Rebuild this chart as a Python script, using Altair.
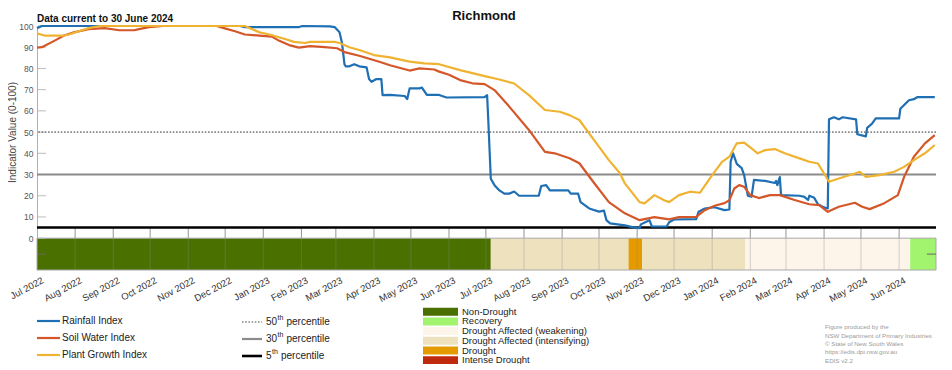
import altair as alt
import pandas as pd

FONT = "Liberation Sans"

# ---------------- data ----------------
rain_dates = ["2022-07-01", "2022-07-05", "2022-12-13", "2022-12-17", "2023-01-30", "2023-02-02", "2023-02-24",
              "2023-02-28", "2023-03-04", "2023-03-06", "2023-03-08", "2023-03-09", "2023-03-12", "2023-03-16",
              "2023-03-20", "2023-03-26", "2023-03-28", "2023-03-30", "2023-04-03", "2023-04-07", "2023-04-08",
              "2023-04-14", "2023-04-26", "2023-04-28", "2023-04-30", "2023-05-08", "2023-05-10", "2023-05-14",
              "2023-05-24", "2023-05-30", "2023-06-30", "2023-07-02", "2023-07-03", "2023-07-05", "2023-07-08",
              "2023-07-12", "2023-07-16", "2023-07-20", "2023-07-24", "2023-07-28", "2023-08-13", "2023-08-15",
              "2023-08-19", "2023-08-22", "2023-09-06", "2023-09-08", "2023-09-14", "2023-09-16", "2023-09-23",
              "2023-10-01", "2023-10-05", "2023-10-07", "2023-10-10", "2023-10-22", "2023-10-28", "2023-11-03",
              "2023-11-04", "2023-11-11", "2023-11-13", "2023-11-25", "2023-11-27", "2023-12-01", "2023-12-19",
              "2023-12-21", "2023-12-26", "2024-01-03", "2024-01-11", "2024-01-15", "2024-01-16", "2024-01-18",
              "2024-01-21", "2024-01-25", "2024-01-27", "2024-01-30", "2024-02-02", "2024-02-04", "2024-02-13",
              "2024-02-21", "2024-02-22", "2024-02-23", "2024-02-25", "2024-02-26", "2024-03-12", "2024-03-16",
              "2024-03-19", "2024-03-20", "2024-03-24", "2024-03-27", "2024-04-01", "2024-04-04", "2024-04-05",
              "2024-04-09", "2024-04-13", "2024-04-16", "2024-04-27", "2024-04-28", "2024-05-05", "2024-05-06",
              "2024-05-10", "2024-05-13", "2024-06-01", "2024-06-02", "2024-06-09", "2024-06-13", "2024-06-16",
              "2024-06-30"]
rain_vals = [99, 100, 100, 99.5, 99.5, 100, 99.8,
             99.5, 97, 92, 82, 81, 81, 82,
             81, 80.5, 75, 73.7, 75, 75, 67.4,
             67.5, 67, 65.5, 70.6, 70.6, 71, 67.5,
             67.5, 66.3, 66.5, 67.4, 55, 28, 25,
             22.5, 21, 21, 22, 20, 20, 24.6,
             25, 22.5, 22.5, 21, 21, 17, 14,
             12.5, 13, 8.5, 7, 6, 5.2, 4.7,
             6.5, 8.5, 5.5, 5.5, 7.5, 8.8, 9,
             12.5, 14, 14.6, 13.2, 13.5, 36, 40,
             35, 33, 29.7, 20, 19.5, 27.5, 27,
             26, 27, 25, 28.8, 20.3, 20, 19.5,
             18, 20, 19, 16, 14.5, 14, 56,
             57, 56, 57, 56, 49, 48, 52,
             54, 56.5, 56.5, 61, 65, 65.5, 66.5,
             66.5]

soil_dates = ["2022-07-01", "2022-07-05", "2022-07-15", "2022-07-23", "2022-07-31", "2022-08-12", "2022-08-25",
              "2022-09-06", "2022-09-18", "2022-09-22", "2022-09-30", "2022-10-12", "2022-11-24", "2022-11-30",
              "2022-12-09", "2022-12-17", "2022-12-29", "2023-01-08", "2023-01-14", "2023-01-22", "2023-01-30",
              "2023-02-08", "2023-02-20", "2023-03-02", "2023-03-08", "2023-03-20", "2023-04-06", "2023-04-14",
              "2023-04-30", "2023-05-08", "2023-05-20", "2023-05-24", "2023-06-01", "2023-06-10", "2023-06-20",
              "2023-06-30", "2023-07-08", "2023-07-20", "2023-08-05", "2023-08-18", "2023-08-26", "2023-09-07",
              "2023-09-15", "2023-09-27", "2023-10-09", "2023-10-22", "2023-11-03", "2023-11-15", "2023-11-27",
              "2023-12-05", "2023-12-19", "2023-12-26", "2024-01-03", "2024-01-11", "2024-01-15", "2024-01-19",
              "2024-01-23", "2024-01-27", "2024-02-01", "2024-02-08", "2024-02-17", "2024-02-25", "2024-03-08",
              "2024-03-20", "2024-03-28", "2024-04-04", "2024-04-13", "2024-04-26", "2024-05-02", "2024-05-08",
              "2024-05-20", "2024-05-31", "2024-06-05", "2024-06-13", "2024-06-22", "2024-06-30"]
soil_vals = [89.8, 90, 93, 95.5, 97, 98.5, 99,
             98, 98, 98.5, 99.5, 100, 100, 99,
             97.5, 96, 95.5, 95, 93, 91, 89.8,
             90.5, 90, 89.5, 87.7, 86, 83, 81.5,
             79, 80, 79.5, 78.5, 77, 74.5, 73,
             72.6, 69.8, 62, 51, 40.7, 40, 37.7,
             35.3, 26, 17, 11.7, 8.5, 9.9, 8.9,
             9.9, 10, 13.2, 15.3, 16.5, 17.9, 23.4,
             25, 24.2, 20.3, 18.9, 20.3, 20.3, 18,
             16, 15.6, 12.4, 14.8, 16.7, 14.8, 13.7,
             16.5, 20.3, 28.8, 38.4, 44.7, 48.6]

plant_dates = ["2022-07-01", "2022-07-07", "2022-07-23", "2022-07-27", "2022-08-04", "2022-08-12", "2022-08-21",
               "2022-12-17", "2022-12-21", "2022-12-29", "2023-01-06", "2023-01-18", "2023-01-26", "2023-02-04",
               "2023-02-08", "2023-02-28", "2023-03-04", "2023-03-12", "2023-03-20", "2023-04-01", "2023-04-14",
               "2023-04-30", "2023-05-12", "2023-05-24", "2023-06-10", "2023-06-30", "2023-07-12", "2023-07-24",
               "2023-08-05", "2023-08-18", "2023-08-30", "2023-09-07", "2023-09-15", "2023-09-27", "2023-10-09",
               "2023-10-18", "2023-10-22", "2023-11-03", "2023-11-07", "2023-11-15", "2023-11-23", "2023-11-27",
               "2023-12-05", "2023-12-14", "2023-12-22", "2023-12-31", "2024-01-09", "2024-01-15", "2024-01-21",
               "2024-01-27", "2024-02-02", "2024-02-07", "2024-02-13", "2024-02-21", "2024-02-29", "2024-03-12",
               "2024-03-20", "2024-03-27", "2024-04-01", "2024-04-05", "2024-04-13", "2024-04-26", "2024-04-30",
               "2024-05-05", "2024-05-16", "2024-05-28", "2024-06-05", "2024-06-13", "2024-06-22", "2024-06-30"]
plant_vals = [96.5, 95.5, 95.5, 96, 97.5, 99, 100,
              100, 99, 97, 96, 94, 92.5, 92,
              92.5, 92.5, 92, 90, 88.7, 86.3, 85.2,
              83.2, 82.4, 82, 79.2, 76.4, 74.8, 72.9,
              67.4, 60.4, 59.6, 58, 55.7, 46.2, 36.8,
              30.6, 25.8, 17, 16.4, 20.3, 17.9, 17,
              20.3, 21.9, 21.4, 28.9, 36, 38.4, 44.7,
              45, 42.3, 40, 41.5, 42, 40, 37.6,
              36, 35.2, 30.5, 26.6, 28.1, 30.5, 31.3,
              28.9, 29.7, 31.3, 33.6, 36.8, 40, 43.9]

series_names = ["Rainfall Index", "Soil Water Index", "Plant Growth Index"]
series_colors = ["#1f6fb4", "#d4572a", "#efb331"]

drought_starts = ["2022-07-01", "2023-07-05", "2023-10-25", "2023-11-05", "2024-01-28", "2024-06-10"]
drought_ends = ["2023-07-05", "2023-10-25", "2023-11-05", "2024-01-28", "2024-06-10", "2024-07-01"]
drought_cats = ["Non-Drought", "Drought Affected (intensifying)", "Drought", "Drought Affected (intensifying)",
                "Drought Affected (weakening)", "Recovery"]

drought_legend = ["Non-Drought", "Recovery", "Drought Affected (weakening)", "Drought Affected (intensifying)",
                  "Drought", "Intense Drought"]
drought_colors = ["#4a7100", "#a2f46e", "#fdf4ea", "#eee1be", "#e59a00", "#bf2a0e"]

percentile_vals = [50, 30, 5]
percentile_nums = ["50", "30", "5"]

month_starts = ["2022-07-01", "2022-08-01", "2022-09-01", "2022-10-01", "2022-11-01", "2022-12-01",
                "2023-01-01", "2023-02-01", "2023-03-01", "2023-04-01", "2023-05-01", "2023-06-01",
                "2023-07-01", "2023-08-01", "2023-09-01", "2023-10-01", "2023-11-01", "2023-12-01",
                "2024-01-01", "2024-02-01", "2024-03-01", "2024-04-01", "2024-05-01", "2024-06-01"]
y_ticks = [0, 10, 20, 30, 40, 50, 60, 70, 80, 90, 100]
minor_ticks = [-7.5]

credits = ["Figure produced by the", "NSW Department of Primary Industries", "\u00a9 State of New South Wales",
           "https://edis.dpi.nsw.gov.au", "EDIS v2.2"]

# ---------------- layout ----------------
W, H = 899, 244


def dt(s):
    y, m, d = (int(p) for p in s.split("-"))
    return alt.DateTime(year=y, month=m, date=d, utc=True)


xscale = alt.Scale(type="utc", domain=[dt("2022-07-01"), dt("2024-07-01")])
yscale = alt.Scale(domain=[-15, 100], nice=False, zero=False)
xaxis = alt.Axis(values=[dt(s) for s in month_starts], labelExpr="utcFormat(datum.value, '%b %Y')",
                 labelAngle=-28, labelAlign="right", labelBaseline="top", labelFontSize=9.5,
                 labelColor="#333", labelPadding=5, labelOffset=3, labelFlush=False,
                 labelOverlap=False, ticks=False, domain=False, grid=False, title=None)
yaxis = alt.Axis(values=y_ticks, ticks=False, labelPadding=4, labelFontSize=8.5, labelColor="#555",
                 domainColor="#b0b0b0", grid=False, title="Indicator Value (0-100)", titleFontSize=10,
                 titleFontWeight="normal", titleColor="#444", titleX=-20, titleY=106)
YT = "Indicator Value (0-100)"

one = pd.DataFrame({"a": [0]})

layers = []

# drought band
dd = pd.DataFrame({"start": drought_starts, "end": drought_ends, "cat": drought_cats})
layers.append(
    alt.Chart(dd).mark_rect().encode(
        x=alt.X("start:T", scale=xscale, axis=xaxis),
        x2="end:T",
        y=alt.Y(datum=0, scale=yscale, axis=yaxis, title=YT),
        y2=alt.Y2(datum=-15),
        color=alt.Color("cat:N", scale=alt.Scale(domain=drought_legend, range=drought_colors), legend=None),
    )
)

# month grid lines in the band region
md = pd.DataFrame({"m": month_starts[1:]})
for lo, hi, op in [(-15, 0, 0.35), (0, 5, 0.9)]:
    layers.append(
        alt.Chart(md).mark_rule(color="#888", strokeWidth=1, opacity=op).encode(
            x=alt.X("m:T", scale=xscale, axis=xaxis),
            y=alt.Y(datum=lo, scale=yscale, axis=yaxis, title=YT),
            y2=alt.Y2(datum=hi),
        )
    )

# band outline
layers.append(
    alt.Chart(one).mark_rect(filled=False, stroke="#a8a8a8", strokeWidth=1).encode(
        x=alt.value(0), x2=alt.value(W),
        y=alt.Y(datum=0, scale=yscale, axis=yaxis, title=YT),
        y2=alt.Y2(datum=-15),
    )
)

# y ticks (inward)
yt = pd.DataFrame({"v": y_ticks})
layers.append(
    alt.Chart(yt).mark_rule(color="#bbb", strokeWidth=1).encode(
        x=alt.value(1), x2=alt.value(9),
        y=alt.Y("v:Q", scale=yscale, axis=yaxis, title=YT),
    )
)
mt = pd.DataFrame({"v": minor_ticks})
for xa, xb in [(1, 9), (W - 9, W)]:
    layers.append(
        alt.Chart(mt).mark_rule(color="#666", strokeWidth=1).encode(
            x=alt.value(xa), x2=alt.value(xb),
            y=alt.Y("v:Q", scale=yscale, axis=yaxis, title=YT),
        )
    )

# percentile lines
pstyles = [dict(color="#888", strokeWidth=1.6, strokeDash=[1.6, 1.6]),
           dict(color="#8a8a8a", strokeWidth=2.2),
           dict(color="#000", strokeWidth=2.6)]
for v, st in zip(percentile_vals, pstyles):
    layers.append(
        alt.Chart(one).mark_rule(**st).encode(
            y=alt.Y(datum=v, scale=yscale, axis=yaxis, title=YT),
        )
    )

# index lines
for name, color, ds, vs in zip(series_names, series_colors,
                               [rain_dates, soil_dates, plant_dates],
                               [rain_vals, soil_vals, plant_vals]):
    df = pd.DataFrame({"date": ds, "value": vs})
    layers.append(
        alt.Chart(df).mark_line(color=color, strokeWidth=2.2, strokeJoin="round").encode(
            x=alt.X("date:T", scale=xscale, axis=xaxis),
            y=alt.Y("value:Q", scale=yscale, axis=yaxis, title=YT),
        )
    )


# ---------------- annotations / legends ----------------
def txt(s, x, y, size=10, color="#222", weight="normal", align="left", baseline="middle"):
    return alt.Chart(one).mark_text(text=s, fontSize=size, color=color, fontWeight=weight, align=align,
                                    baseline=baseline, font=FONT).encode(x=alt.value(x), y=alt.value(y))


def hline(x1, x2, y, **st):
    return alt.Chart(one).mark_rule(**st).encode(x=alt.value(x1), x2=alt.value(x2), y=alt.value(y))


def box(x1, x2, y1, y2, color):
    return alt.Chart(one).mark_rect(color=color).encode(x=alt.value(x1), x2=alt.value(x2),
                                                        y=alt.value(y1), y2=alt.value(y2))


layers.append(txt("Richmond", 447, -6, size=13, color="#111", weight="bold", align="center",
                  baseline="alphabetic"))
layers.append(txt("Data current to 30 June 2024", 0, -4.5, size=10, color="#111", weight="bold",
                  baseline="alphabetic"))

# series legend
for i, (name, color) in enumerate(zip(series_names, series_colors)):
    y = 295 + 17 * i
    layers.append(hline(0, 23, y, color=color, strokeWidth=2.2))
    layers.append(txt(name, 25, y, size=10))

# percentile legend
num_x = 229
for i, (num, st) in enumerate(zip(percentile_nums, pstyles)):
    y = 296 + 17 * i
    layers.append(hline(205, 225, y, **st))
    layers.append(txt(num, num_x, y, size=10))
    short = len(num) == 1
    layers.append(txt("th", 235 if short else 240.5, y - 4, size=7))
    layers.append(txt("percentile", 244 if short else 249.5, y, size=10))

# drought legend
for i, (name, color) in enumerate(zip(drought_legend, drought_colors)):
    yc = 285.7 + 9.7 * i
    layers.append(box(386, 421, yc - 4, yc + 4, color))
    layers.append(txt(name, 425, yc, size=9.5))

# credits
for i, line in enumerate(credits):
    layers.append(txt(line, 788, 301.3 + 8.35 * i, size=6.2, color="#9a9a9a"))

chart = alt.layer(*layers).properties(
    width=W, height=H,
    autosize=alt.AutoSizeParams(type="none"),
    padding={"left": 29, "top": 18, "right": 8, "bottom": 94},
).configure(font=FONT).configure_view(stroke=None)

chart.save("out.html", embed_options={"renderer": "svg", "actions": False})
